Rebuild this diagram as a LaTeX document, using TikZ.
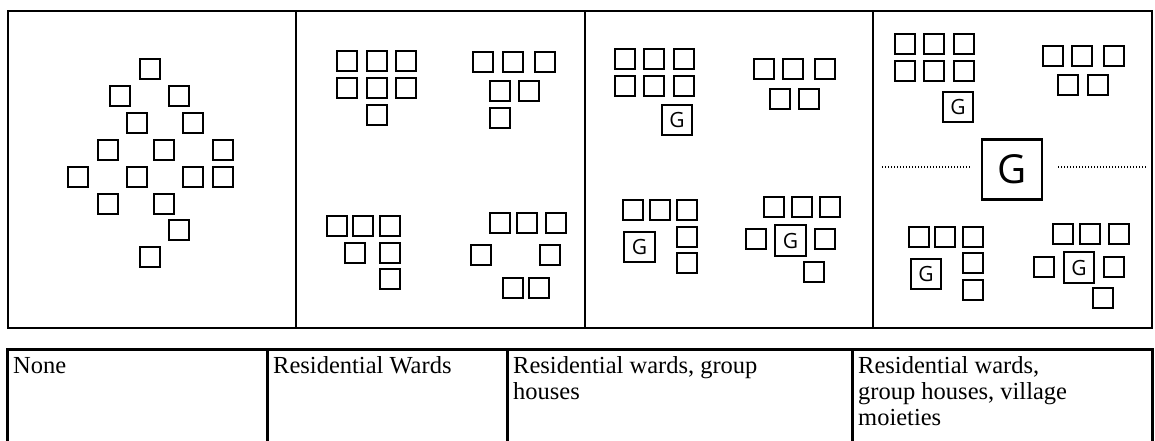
\documentclass[tikz,border=0pt]{standalone}
\usepackage{fontspec}
\setmainfont{Liberation Serif}
\newfontfamily\gfont{Open Sans}
\begin{document}
\begin{tikzpicture}[x=1pt,y=-1pt,
  hut/.style={draw=black,line width=2pt,minimum size=20pt,inner sep=0pt},
  ghut/.style={draw=black,line width=2pt,minimum size=30.5pt,inner sep=0pt,font=\gfont\fontsize{21}{21}\selectfont},
  bigg/.style={draw=black,line width=2.2pt,minimum size=60pt,inner sep=0pt,font=\gfont\fontsize{40}{40}\selectfont},
  frame/.style={draw=black,line width=2.5pt},
  divider/.style={draw=black,line width=2pt},
  tabline/.style={draw=black,line width=3pt},
  cell/.style={anchor=north west,inner sep=0pt,align=left,font=\fontsize{24.5}{26}\selectfont},
  dots/.style={draw=black,line width=1.6pt,dash pattern=on 1.4pt off 1.6pt}]
\useasboundingbox (0,0) rectangle (1155,441);
% top frame
\draw[frame] (8,11) rectangle (1152,328);
\draw[divider] (296,11) -- (296,328);
\draw[divider] (585,11) -- (585,328);
\draw[divider] (873,11) -- (873,328);
% panel 1
\foreach \x/\y [count=\i] in {150/69,120/96,179/96,137/123,193/123,108/150,164/150,223/150,78/177,137/177,193/177,223/177,108/204,164/204,179/230,150/257}
  \node[hut] (a\i) at (\x,\y) {};
% panel 2
\foreach \x/\y [count=\i] in {347/61,377/61,406/61,347/88,377/88,406/88,377/115,
  483/62,513/62,545/62,500/91,529/91,500/118,
  337/226,363/226,390/226,355/253,390/253,390/279,
  500/223,527/223,556/223,481/255,550/255,513/288,539/288}
  \node[hut] (b\i) at (\x,\y) {};
% panel 3
\foreach \x/\y [count=\i] in {625/59,654/59,684/59,625/86,654/86,684/86,
  764/69,793/69,825/69,780/99,809/99,
  633/210,660/210,687/210,687/237,687/263,
  774/207,802/207,830/207,756/239,825/239,814/272}
  \node[hut] (c\i) at (\x,\y) {};
\node[ghut] (cg1) at (677,120) {G};
\node[ghut] (cg2) at (639.5,247) {G};
\node[ghut] (cg3) at (790.5,240.5) {G};
% panel 4
\foreach \x/\y [count=\i] in {905/44,934/44,964/44,905/71,934/71,964/71,
  1053/56,1082/56,1114/56,1068/85,1098/85,
  919/237,945/237,973/237,973/263,973/290,
  1063/234,1090/234,1119/234,1044/267,1114/267,1103/298}
  \node[hut] (d\i) at (\x,\y) {};
\node[ghut] (dg1) at (958,107) {G};
\node[ghut] (dg2) at (926,274) {G};
\node[ghut] (dg3) at (1079,267.5) {G};
\node[bigg] (G) at (1012,169.5) {G};
\coordinate (dl1) at (882,167);
\coordinate (dl2) at (970,167);
\coordinate (dr1) at (1058,167);
\coordinate (dr2) at (1147,167);
\draw[dots] (dl1) -- (dl2);
\draw[dots] (dr1) -- (dr2);
% table
\draw[tabline] (7,445) -- (7,349) -- (1152,349) -- (1152,445);
\draw[tabline] (267,349) -- (267,445);
\draw[tabline] (507,349) -- (507,445);
\draw[tabline] (852,349) -- (852,445);
\node[cell] (t1) at (13,354.8) {\strut None};
\node[cell] (t2) at (273,354.8) {\strut Residential Wards};
\node[cell] (t3) at (513,354.8) {\strut Residential wards, group\\houses};
\node[cell] (t4) at (858,354.8) {\strut Residential wards,\\group houses, village\\moieties};
\end{tikzpicture}
\end{document}
